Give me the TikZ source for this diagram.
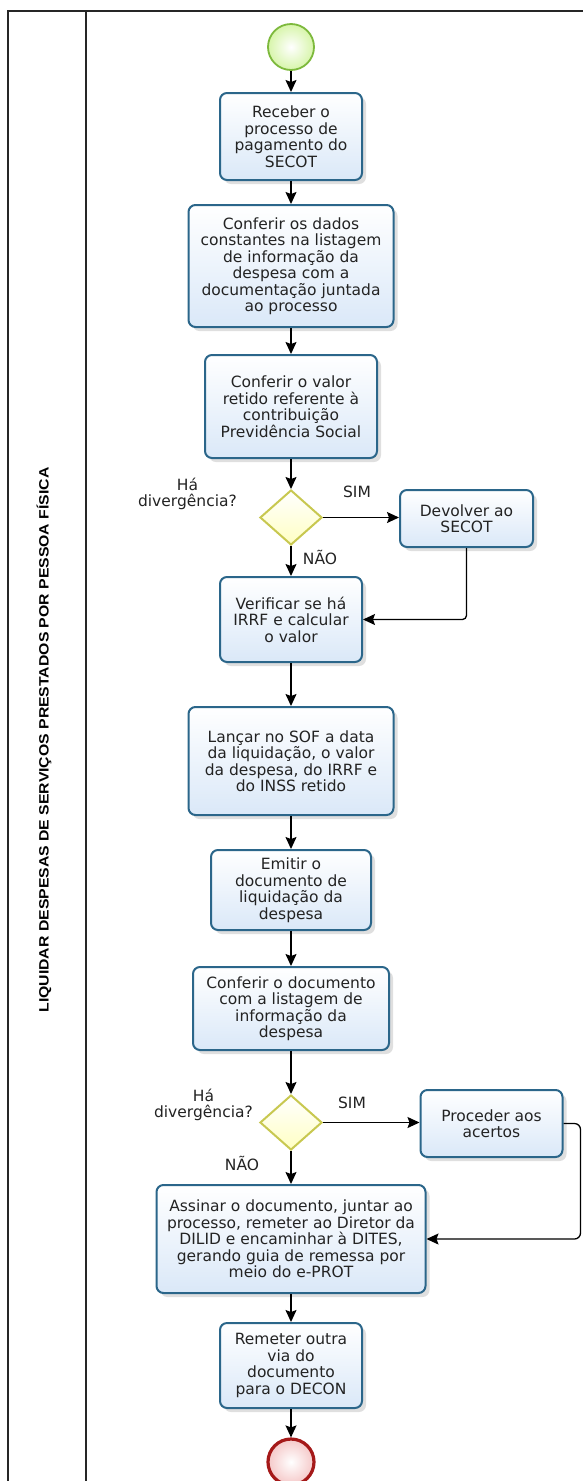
\documentclass[tikz,border=0pt]{standalone}
\usepackage{fontspec}
\usetikzlibrary{shapes.geometric,arrows.meta,shadows}
\newfontfamily\bzfont{DejaVu Sans}
\newfontfamily\hdrfont{Liberation Sans}
\definecolor{boxline}{RGB}{43,102,138}
\definecolor{boxfill}{RGB}{218,232,248}
\definecolor{gwline}{RGB}{200,200,80}
\definecolor{gwfill}{RGB}{255,255,195}
\definecolor{stline}{RGB}{125,185,60}
\definecolor{stfill}{RGB}{215,245,170}
\definecolor{endline}{RGB}{165,25,25}
\definecolor{endfill}{RGB}{245,200,200}
\definecolor{txt}{RGB}{35,35,35}
\begin{document}
\begin{tikzpicture}[x=1pt,y=-1pt,
  task/.style={rectangle, rounded corners=7pt, draw=boxline, line width=2pt, top color=white, bottom color=boxfill, align=center, inner sep=2pt, font=\bzfont\fontsize{15.5}{16.5}\selectfont, text=txt, drop shadow={opacity=0.25, shadow xshift=4pt, shadow yshift=-4pt}},
  gate/.style={diamond, draw=gwline, line width=2pt, top color=white, bottom color=gwfill, inner sep=0pt, minimum width=62pt, minimum height=55pt},
  lbl/.style={font=\bzfont\fontsize{15.5}{16.5}\selectfont, text=txt, align=center, inner sep=0pt},
  flow/.style={draw=black, line width=1.3pt, -{Stealth[length=12pt,width=11pt,inset=2pt]}},
  frame/.style={draw=black!85, line width=1.5pt}
]
\useasboundingbox (0,0) rectangle (582,1481);
\fill[white] (0,0) rectangle (582,1481);
\draw[frame] (8,1495) -- (8,11) -- (595,11);
\draw[frame] (86,11) -- (86,1495);
\node[rotate=90, inner sep=0pt] (title) at (44,740) {\resizebox{545pt}{12pt}{\hdrfont\bfseries LIQUIDAR DESPESAS DE SERVIÇOS PRESTADOS POR PESSOA FÍSICA}};

\node[circle, draw=stline, line width=1.8pt, inner color=white, outer color=stfill, minimum size=46pt, inner sep=0pt] (start) at (291,47) {};
\node[task, minimum width=142pt, minimum height=87pt] (b1) at (291,136.5) {Receber o\\processo de\\pagamento do\\SECOT};
\node[task, minimum width=205pt, minimum height=122pt] (b2) at (291,266) {Conferir os dados\\constantes na listagem\\de informação da\\despesa com a\\documentação juntada\\ao processo};
\node[task, minimum width=172pt, minimum height=103pt] (b3) at (291,406.5) {Conferir o valor\\retido referente à\\contribuição\\Previdência Social};
\node[gate] (d1) at (291,517.5) {};
\node[task, minimum width=133pt, minimum height=57pt] (dev) at (466.5,518.5) {Devolver ao\\SECOT};
\node[task, minimum width=142pt, minimum height=85pt] (b4) at (291,619.5) {Verificar se há\\IRRF e calcular\\o valor};
\node[task, minimum width=205pt, minimum height=108pt] (b5) at (291,761) {Lançar no SOF a data\\da liquidação, o valor\\da despesa, do IRRF e\\do INSS retido};
\node[task, minimum width=160pt, minimum height=80pt] (b6) at (291,890) {Emitir o\\documento de\\liquidação da\\despesa};
\node[task, minimum width=196pt, minimum height=83pt] (b7) at (291,1008.5) {Conferir o documento\\com a listagem de\\informação da\\despesa};
\node[gate] (d2) at (291,1122.5) {};
\node[task, minimum width=142pt, minimum height=67pt] (proc) at (491.5,1123.5) {Proceder aos\\acertos};
\node[task, minimum width=269pt, minimum height=108pt] (b8) at (291,1239) {Assinar o documento, juntar ao\\processo, remeter ao Diretor da\\DILID e encaminhar à DITES,\\gerando guia de remessa por\\meio do e-PROT};
\node[task, minimum width=142pt, minimum height=85pt] (b9) at (291,1365.5) {Remeter outra\\via do\\documento\\para o DECON};
\node[circle, draw=endline, line width=3.2pt, inner color=white, outer color=endfill, minimum size=46pt, inner sep=0pt] (end) at (291,1462) {};

\node[lbl, anchor=east] (q1) at (237,494) {Há\\divergência?};
\node[lbl] (s1) at (357,492) {SIM};
\node[lbl] (n1) at (320,557) {NÃO};
\node[lbl, anchor=east] (q2) at (253,1105) {Há\\divergência?};
\node[lbl] (s2) at (352,1103) {SIM};
\node[lbl] (n2) at (242,1163) {NÃO};

\draw[flow] (start) -- (b1);
\draw[flow] (b1) -- (b2);
\draw[flow] (b2) -- (b3);
\draw[flow] (b3) -- (d1);
\draw[flow] (d1.east) -- (d1.east -| dev.west);
\draw[flow] (d1) -- (b4);
\draw[flow, rounded corners=4pt] (dev.south) |- (b4.east);
\draw[flow] (b4) -- (b5);
\draw[flow] (b5) -- (b6);
\draw[flow] (b6) -- (b7);
\draw[flow] (b7) -- (d2);
\draw[flow] (d2.east) -- (d2.east -| proc.west);
\draw[flow] (d2) -- (b8);
\draw[flow, rounded corners=6pt] (proc.east) -- ++(17,0) coordinate (r2) |- (b8.east);
\draw[flow] (b8) -- (b9);
\draw[flow] (b9) -- (end);
\end{tikzpicture}
\end{document}
